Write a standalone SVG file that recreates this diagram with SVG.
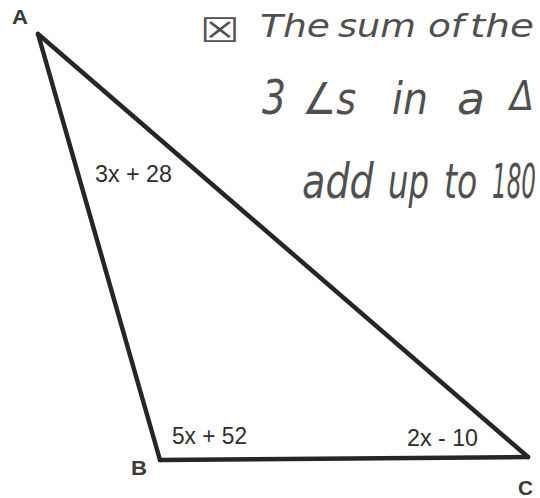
<svg xmlns="http://www.w3.org/2000/svg" width="540" height="498" viewBox="0 0 540 498">
  <style>
    .edge { fill: none; stroke: #262626; stroke-width: 4.5; stroke-linejoin: miter; stroke-linecap: round; }
    .vlabel { font-family: "Liberation Sans", Arial, sans-serif; font-size: 21px; font-weight: bold; fill: #3a3a3a; }
    .alabel { font-family: "Liberation Sans", Arial, sans-serif; font-size: 24px; fill: #2e2e2e; }
    .hand { font-family: "DejaVu Sans", "Liberation Sans", sans-serif; font-style: oblique; font-weight: 200; fill: #505050; }
    .l3 { font-size: 36px; }
  </style>
  <rect width="540" height="498" fill="#ffffff"/>

  <g id="connectors">
    <line class="edge" x1="38" y1="34" x2="160" y2="460"/>
    <line class="edge" x1="160" y1="460" x2="528" y2="457"/>
    <line class="edge" x1="38" y1="34" x2="528" y2="457"/>
  </g>

  <g id="vertex-A"><text class="vlabel" x="12" y="24" textLength="16" lengthAdjust="spacingAndGlyphs">A</text></g>
  <g id="vertex-B"><text class="vlabel" x="131" y="475" textLength="16" lengthAdjust="spacingAndGlyphs">B</text></g>
  <g id="vertex-C"><text class="vlabel" x="518" y="495" textLength="15" lengthAdjust="spacingAndGlyphs">C</text></g>

  <g id="angle-A"><text class="alabel" x="95" y="182" textLength="77" lengthAdjust="spacingAndGlyphs">3x + 28</text></g>
  <g id="angle-B"><text class="alabel" x="172" y="444" textLength="75" lengthAdjust="spacingAndGlyphs">5x + 52</text></g>
  <g id="angle-C"><text class="alabel" x="407" y="446" textLength="71" lengthAdjust="spacingAndGlyphs">2x - 10</text></g>

  <g id="note">
    <text class="hand" x="200" y="42" font-size="34" textLength="40" lengthAdjust="spacingAndGlyphs">☒</text>
    <text class="hand" x="260" y="37" font-size="32" textLength="70" lengthAdjust="spacingAndGlyphs">The</text>
    <text class="hand" x="338" y="37" font-size="32" textLength="78" lengthAdjust="spacingAndGlyphs">sum</text>
    <text class="hand" x="428" y="37" font-size="32" textLength="36" lengthAdjust="spacingAndGlyphs">of</text>
    <text class="hand" x="470" y="37" font-size="32" textLength="64" lengthAdjust="spacingAndGlyphs">the</text>

    <text class="hand" x="262" y="114" font-size="48" textLength="24" lengthAdjust="spacingAndGlyphs">3</text>
    <text class="hand" x="302" y="114" font-size="44" textLength="54" lengthAdjust="spacingAndGlyphs">∠s</text>
    <text class="hand" x="392" y="114" font-size="44" textLength="36" lengthAdjust="spacingAndGlyphs">in</text>
    <text class="hand" x="457" y="114" font-size="44" textLength="28" lengthAdjust="spacingAndGlyphs">a</text>
    <text class="hand" x="510" y="110" font-size="40" textLength="24" lengthAdjust="spacingAndGlyphs">Δ</text>

    <text class="hand l3" transform="translate(302,198) scale(1.06,1.33)">add</text>
    <text class="hand l3" transform="translate(388,198) scale(0.9,1.33)">up</text>
    <text class="hand l3" transform="translate(444,198) scale(0.92,1.33)">to</text>
    <text class="hand l3" transform="translate(492,198) scale(0.64,1.33)">180</text>
  </g>
</svg>
